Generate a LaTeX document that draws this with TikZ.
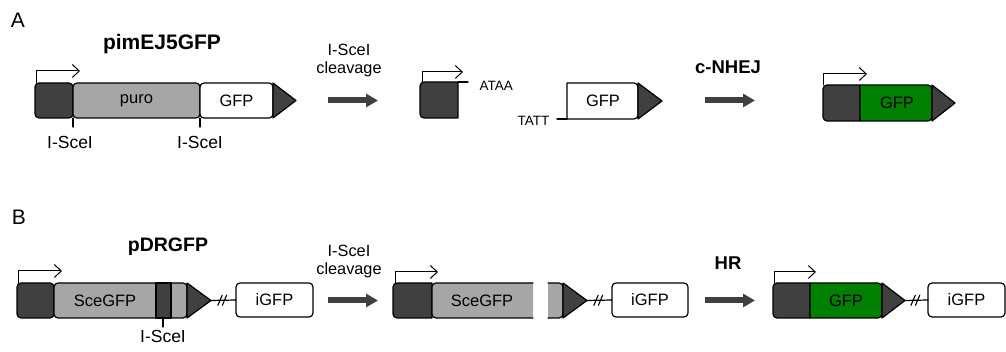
\documentclass[tikz,border=0pt]{standalone}
\usepackage{fontspec}
\setmainfont{Liberation Sans}
\usepackage{tikz}
\usetikzlibrary{arrows.meta,decorations.markings,positioning}
\definecolor{dsbdark}{HTML}{404040}
\definecolor{dsbgray}{HTML}{A6A6A6}
\definecolor{dsbgreen}{HTML}{008000}
\tikzset{
  every picture/.append style={line cap=round,line join=round},
  dsb box/.style={draw,line width=1.2pt,rounded corners=4pt,minimum height=35pt,inner sep=0pt,outer sep=0pt,font=\fontsize{16.5}{18}\selectfont},
  dsb dark/.style={fill=dsbdark},
  dsb gray/.style={fill=dsbgray},
  dsb green/.style={fill=dsbgreen},
  dsb part/.style={draw,line width=1.2pt},
  dsb tip/.style={draw,fill=dsbdark,line width=1.2pt},
  dsb promoter/.style={line width=1pt,-{Straight Barb[length=7pt,width=13pt]}},
  dsb step/.style={line width=6pt,draw=dsbdark,line cap=butt,-{Triangle[length=12pt,width=13pt]}},
  dsb label/.style={font=\fontsize{16.5}{18}\selectfont},
  dsb site/.style={font=\fontsize{17.5}{19}\selectfont},
  dsb end/.style={font=\fontsize{13.5}{15}\selectfont},
  dsb head/.style={font=\bfseries\fontsize{18.5}{20}\selectfont},
  dsb title/.style={font=\bfseries\fontsize{21}{23}\selectfont},
  dsb panel/.style={font=\fontsize{21}{23}\selectfont},
  dsb note/.style={font=\fontsize{16.3}{18}\selectfont,align=center},
  dsb link/.style={line width=1.2pt,postaction={decorate},
    decoration={markings,mark=at position 0.45 with {
      \draw[line width=1.1pt] (-4.5pt,-5pt) -- (0pt,5pt);
      \draw[line width=1.1pt] (0pt,-5pt) -- (4.5pt,5pt);}}}
}

\begin{document}
\begin{tikzpicture}[x=1pt,y=1pt]
  \useasboundingbox (0,0) rectangle (1006,352);

  % panel A: pimEJ5GFP
  \node[dsb panel] (panelA) at (18,332) {A};
  \node[dsb title] (pimEJ) at (162,308) {pimEJ5GFP};
  \node[dsb box,dsb dark,minimum width=38pt] (promA) at (54,251.5) {};
  \node[dsb box,dsb gray,minimum width=127pt,right=0pt of promA] (puro) {puro};
  \node[dsb box,fill=white,minimum width=73pt,right=0pt of puro] (gfpA) {GFP};
  \filldraw[dsb tip] (gfpA.north east) -- ([xshift=23pt]gfpA.east) -- (gfpA.south east) -- cycle;
  \draw[dsb promoter] ([xshift=1pt]promA.north west) -- ++(0,12) -- ++(44,0);
  \draw[line width=1.1pt] (puro.south west) -- ++(0,-9);
  \draw[line width=1.1pt] (puro.south east) -- ++(0,-9);
  \node[dsb site] (siteA1) at (70,210) {I-SceI};
  \node[dsb site] (siteA2) at (200,210) {I-SceI};

  \coordinate (cutA from) at (328,251.5);
  \coordinate (cutA to) at (378,251.5);
  \draw[dsb step] (cutA from) -- (cutA to);
  \node[dsb note] (cutA) at (349,291) {I-SceI\\cleavage};

  % cut ends
  \filldraw[dsb part,fill=dsbdark] (458,270) -- (424,270) arc[start angle=90,end angle=180,radius=4pt]
    -- (420,238) arc[start angle=180,end angle=270,radius=4pt] -- (458,234) -- cycle;
  \draw[dsb promoter] (422,270) -- (422,280) -- (463,280);
  \draw[line width=1.1pt] (458,270) -- (468,270);
  \node[dsb end,anchor=west] (ataa) at (476,266.5) {ATAA};
  \filldraw[dsb part,fill=white] (567,233) -- (567,269) -- (634,269) arc[start angle=90,end angle=0,radius=4pt]
    -- (638,237) arc[start angle=0,end angle=-90,radius=4pt] -- cycle;
  \node[dsb label] (gfpCut) at (603,251) {GFP};
  \filldraw[dsb tip] (638,269) -- (662,251) -- (638,233) -- cycle;
  \draw[line width=1.1pt] (557,233) -- (567,233);
  \node[dsb end,anchor=east] (tatt) at (553,231.5) {TATT};

  \coordinate (nhej from) at (705,251.5);
  \coordinate (nhej to) at (755,251.5);
  \draw[dsb step] (nhej from) -- (nhej to);
  \node[dsb head] (nhej) at (728,285) {c-NHEJ};

  % repaired GFP
  \filldraw[dsb part,fill=dsbdark] (860,267) -- (827,267) arc[start angle=90,end angle=180,radius=4pt]
    -- (823,235) arc[start angle=180,end angle=270,radius=4pt] -- (860,231) -- cycle;
  \filldraw[dsb part,fill=dsbgreen] (860,231) -- (860,267) -- (928,267) arc[start angle=90,end angle=0,radius=4pt]
    -- (932,235) arc[start angle=0,end angle=-90,radius=4pt] -- cycle;
  \node[dsb label] (gfpRep) at (897,249) {GFP};
  \filldraw[dsb tip] (932,267) -- (955,249) -- (932,231) -- cycle;
  \draw[dsb promoter] (823,267) -- (823,278) -- (867,278);

  % panel B: pDRGFP
  \node[dsb panel] (panelB) at (19,135) {B};
  \node[dsb title,font=\bfseries\fontsize{19.5}{21}\selectfont] (pDR) at (168,105) {pDRGFP};
  \node[dsb box,dsb dark,minimum width=37pt,minimum height=35pt] (promB) at (35.5,51.5) {};
  \node[dsb box,dsb gray,minimum width=133pt,right=0pt of promB] (sceB) {};
  \node[dsb label] (sceBtxt) at (105,51.5) {SceGFP};
  \filldraw[dsb part,fill=dsbdark] (156,69) rectangle (171,34);
  \draw[line width=1.1pt] (163,34) -- (163,25);
  \node[dsb site] (siteB) at (163,16) {I-SceI};
  \filldraw[dsb tip] (sceB.north east) -- ([xshift=24pt]sceB.east) -- (sceB.south east) -- cycle;
  \coordinate (tipB1) at ([xshift=24pt]sceB.east);
  \draw[dsb promoter] ([xshift=1pt]promB.north west) -- ++(0,12) -- ++(44,0);
  \node[dsb box,fill=white,minimum width=77pt,minimum height=34pt] (igfpB1) at (274.5,52) {iGFP};
  \draw[dsb link] (tipB1) -- (igfpB1.west);

  \coordinate (cutB from) at (328,51.5);
  \coordinate (cutB to) at (378,51.5);
  \draw[dsb step] (cutB from) -- (cutB to);
  \node[dsb note] (cutB) at (349,90) {I-SceI\\cleavage};

  % cut SceGFP
  \filldraw[dsb part,fill=dsbdark] (432,69) -- (397,69) arc[start angle=90,end angle=180,radius=4pt]
    -- (393,38) arc[start angle=180,end angle=270,radius=4pt] -- (432,34) -- cycle;
  \draw[dsb promoter] (395,69) -- (395,80) -- (438,80);
  \filldraw[dsb part,fill=dsbgray] (533,69) -- (436,69) arc[start angle=90,end angle=180,radius=4pt]
    -- (432,38) arc[start angle=180,end angle=270,radius=4pt] -- (533,34);
  \node[dsb label] (sceCut) at (482,51.5) {SceGFP};
  \filldraw[dsb part,fill=dsbgray] (548,69) -- (559,69) arc[start angle=90,end angle=0,radius=4pt]
    -- (563,38) arc[start angle=0,end angle=-90,radius=4pt] -- (548,34);
  \filldraw[dsb tip] (563,69) -- (587,51.5) -- (563,34) -- cycle;
  \coordinate (tipB2) at (587,51.5);
  \node[dsb box,fill=white,minimum width=76pt,minimum height=34pt] (igfpB2) at (650,52) {iGFP};
  \draw[dsb link] (tipB2) -- (igfpB2.west);

  \coordinate (hr from) at (705,51.5);
  \coordinate (hr to) at (755,51.5);
  \draw[dsb step] (hr from) -- (hr to);
  \node[dsb head] (hr) at (728,89) {HR};

  % repaired GFP after HR
  \filldraw[dsb part,fill=dsbdark] (810,69) -- (777,69) arc[start angle=90,end angle=180,radius=4pt]
    -- (773,38) arc[start angle=180,end angle=270,radius=4pt] -- (810,34) -- cycle;
  \filldraw[dsb part,fill=dsbgreen] (810,34) -- (810,69) -- (878,69) arc[start angle=90,end angle=0,radius=4pt]
    -- (882,38) arc[start angle=0,end angle=-90,radius=4pt] -- cycle;
  \node[dsb label] (gfpHR) at (846,51.5) {GFP};
  \filldraw[dsb tip] (882,69) -- (905,51.5) -- (882,34) -- cycle;
  \coordinate (tipB3) at (905,51.5);
  \draw[dsb promoter] (774,69) -- (774,80) -- (816,80);
  \node[dsb box,fill=white,minimum width=77pt,minimum height=34pt] (igfpB3) at (966.5,52) {iGFP};
  \draw[dsb link] (tipB3) -- (igfpB3.west);
\end{tikzpicture}
\end{document}
